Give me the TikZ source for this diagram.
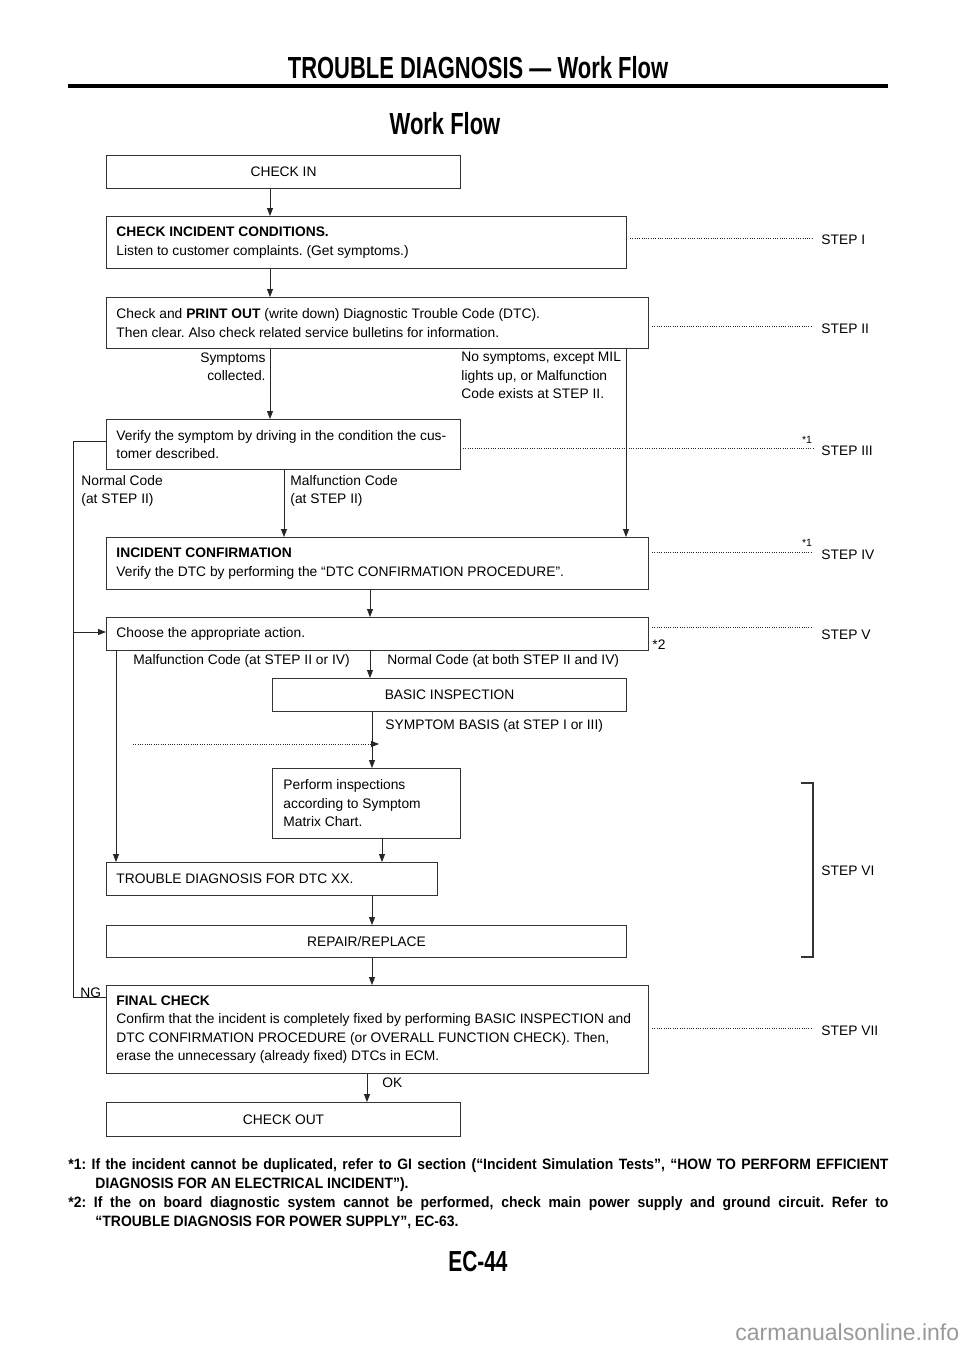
\documentclass[tikz,border=0pt]{standalone}
\usepackage{fontspec}
\usepackage{graphicx}
\setmainfont{Liberation Sans}
\newfontfamily\hdrfont[FakeStretch=0.72]{Liberation Sans}
\newfontfamily\notefont[FakeStretch=0.93]{Liberation Sans}
\usetikzlibrary{arrows.meta}
\newcommand\fsn{\fontsize{13.8pt}{18.5pt}\selectfont}
\newcommand\fss{\fontsize{10.5pt}{12pt}\selectfont}
\begin{document}
\frenchspacing
\begin{tikzpicture}[x=1pt,y=-1pt,line width=0.9pt,
 bx/.style={draw=black!80, line width=1.1pt, rectangle, anchor=north west, inner sep=0pt},
 txt/.style={font=\fsn, inner sep=0pt, align=left},
 arr/.style={draw=black!85, line width=0.9pt, -{Triangle[width=6pt,length=8pt]}},
 dots/.style={draw=black!85, line width=0.9pt, dash pattern=on 0.8pt off 1.5pt},
 steplbl/.style={font=\fsn, inner sep=0pt, anchor=west},
 hdr/.style={inner sep=0pt, font=\hdrfont\bfseries\fontsize{30.5pt}{32pt}\selectfont}]
\useasboundingbox[fill=white] (0,0) rectangle (960,1358);

% header
\node[hdr] (head) at (478,68) {TROUBLE DIAGNOSIS — Work Flow};
\coordinate (ruleL) at (68,86);
\coordinate (ruleR) at (888,86);
\draw[line width=4pt] (ruleL) -- (ruleR);
\node[hdr] (title) at (445,124) {Work Flow};

% boxes
\node[bx, minimum width=354pt, minimum height=33pt, font=\fsn] (checkin) at (106,155) {CHECK IN};

\node[bx, minimum width=520pt, minimum height=52pt] (cond) at (106,216) {};
\node[txt, anchor=west] (condT) at ([xshift=10pt]cond.west) {\textbf{CHECK INCIDENT CONDITIONS.}\\Listen to customer complaints. (Get symptoms.)};

\node[bx, minimum width=542pt, minimum height=51pt] (dtc) at (106,297) {};
\node[txt, anchor=west] (dtcT) at ([xshift=10pt]dtc.west) {Check and \textbf{PRINT OUT} (write down) Diagnostic Trouble Code (DTC).\\Then clear. Also check related service bulletins for information.};

\node[bx, minimum width=354pt, minimum height=50pt] (verify) at (106,419) {};
\node[txt, anchor=west] (verifyT) at ([xshift=10pt]verify.west) {Verify the symptom by driving in the condition the cus-\\tomer described.};

\node[bx, minimum width=542pt, minimum height=52pt] (confirm) at (106,537) {};
\node[txt, anchor=west] (confirmT) at ([xshift=10pt]confirm.west) {\textbf{INCIDENT CONFIRMATION}\\Verify the DTC by performing the “DTC CONFIRMATION PROCEDURE”.};

\node[bx, minimum width=542pt, minimum height=33pt] (choose) at (106,617) {};
\node[txt, anchor=west] (chooseT) at ([xshift=10pt]choose.west) {Choose the appropriate action.};

\node[bx, minimum width=354pt, minimum height=33pt, font=\fsn] (basic) at (272,678) {BASIC INSPECTION};

\node[bx, minimum width=188pt, minimum height=70pt] (perform) at (272,768) {};
\node[txt, anchor=west] (performT) at ([xshift=11pt]perform.west) {Perform inspections\\according to Symptom\\Matrix Chart.};

\node[bx, minimum width=331pt, minimum height=33pt] (trouble) at (106,862) {};
\node[txt, anchor=west] (troubleT) at ([xshift=10pt]trouble.west) {TROUBLE DIAGNOSIS FOR DTC XX.};

\node[bx, minimum width=520pt, minimum height=32pt, font=\fsn] (repair) at (106,925) {REPAIR/REPLACE};

\node[bx, minimum width=542pt, minimum height=88pt] (final) at (106,985) {};
\node[txt, anchor=west] (finalT) at ([xshift=10pt]final.west) {\textbf{FINAL CHECK}\\Confirm that the incident is completely fixed by performing BASIC INSPECTION and\\DTC CONFIRMATION PROCEDURE (or OVERALL FUNCTION CHECK). Then,\\erase the unnecessary (already fixed) DTCs in ECM.};

\node[bx, minimum width=354pt, minimum height=34pt, font=\fsn] (checkout) at (106,1102) {CHECK OUT};

% x positions of connectors
\coordinate (x270) at (270,0);
\coordinate (x626) at (626,0);
\coordinate (x284) at (284,0);
\coordinate (x370) at (370,0);
\coordinate (x372) at (372,0);
\coordinate (x382) at (382,0);
\coordinate (x116) at (116,0);
\coordinate (x367) at (367,0);

% connectors
\draw[arr] (checkin.south -| x270) -- (cond.north -| x270);
\draw[arr] (cond.south -| x270) -- (dtc.north -| x270);
\draw[arr] (dtc.south -| x270) -- (verify.north -| x270);
\draw[arr] (dtc.south -| x626) -- (confirm.north -| x626);
\draw[arr] (verify.south -| x284) -- (confirm.north -| x284);
\draw[arr] (confirm.south -| x370) -- (choose.north -| x370);
\draw[arr] (choose.south -| x370) -- (basic.north -| x370);
\draw[arr] (basic.south -| x372) -- (perform.north -| x372);
\draw[arr] (perform.south -| x382) -- (trouble.north -| x382);
\draw[arr] (choose.south -| x116) -- (trouble.north -| x116);
\draw[arr] (trouble.south -| x372) -- (repair.north -| x372);
\draw[arr] (repair.south -| x372) -- (final.north -| x372);
\draw[arr] (final.south -| x367) -- (checkout.north -| x367);

% loop on the left
\coordinate (lpT) at (73,441);
\coordinate (lpM) at (73,632);
\coordinate (lpB) at (73,997);
\draw[draw=black!85] (verify.west |- lpT) -- (lpT) -- (lpB) -- (final.west |- lpB);
\draw[arr] (lpM) -- (choose.west |- lpM);

% dotted arrow
\coordinate (dotS) at (133,744);
\coordinate (dotE) at (379,744);
\draw[dots, -{Triangle[width=6pt,length=8pt]}] (dotS) -- (dotE);

% labels
\node[txt, align=right, anchor=north east] (symp) at (266,352) {Symptoms\\collected.};
\node[txt, anchor=north west] (nosymp) at (461,352) {No symptoms, except MIL\\lights up, or Malfunction\\Code exists at STEP II.};
\node[txt, anchor=north west] (normal) at (81,475) {Normal Code\\(at STEP II)};
\node[txt, anchor=north west] (malf) at (290,475) {Malfunction Code\\(at STEP II)};
\node[txt, anchor=north west] (malf2) at (133,654) {Malfunction Code (at STEP II or IV)};
\node[txt, anchor=north west] (normal2) at (387,654) {Normal Code (at both STEP II and IV)};
\node[txt, anchor=north west] (sbasis) at (385,719) {SYMPTOM BASIS (at STEP I or III)};
\node[txt, anchor=north west] (ng) at (80,987) {NG};
\node[txt, anchor=north west] (ok) at (382,1077) {OK};
\node[txt, anchor=north west] (st2) at (652,639) {*2};

% step labels
\node[steplbl] (s1) at (821,240) {STEP I};
\node[steplbl] (s2) at (821,329) {STEP II};
\node[steplbl] (s3) at (821,451) {STEP III};
\node[steplbl] (s4) at (821,555) {STEP IV};
\node[steplbl] (s5) at (821,635) {STEP V};
\node[steplbl] (s6) at (821,871) {STEP VI};
\node[steplbl] (s7) at (821,1031) {STEP VII};
\node[font=\fss, inner sep=0pt] (st1a) at (807,440) {*1};
\node[font=\fss, inner sep=0pt] (st1b) at (807,543) {*1};

% dotted leaders
\coordinate (l1a) at (630,238);  \coordinate (l1b) at (813,238);
\coordinate (l2a) at (652,326);  \coordinate (l2b) at (813,326);
\coordinate (l3a) at (463,448);  \coordinate (l3b) at (813,448);
\coordinate (l4a) at (652,552);  \coordinate (l4b) at (813,552);
\coordinate (l5a) at (652,627);  \coordinate (l5b) at (813,627);
\coordinate (l7a) at (652,1028); \coordinate (l7b) at (813,1028);
\draw[dots] (l1a) -- (l1b);
\draw[dots] (l2a) -- (l2b);
\draw[dots] (l3a) -- (l3b);
\draw[dots] (l4a) -- (l4b);
\draw[dots] (l5a) -- (l5b);
\draw[dots] (l7a) -- (l7b);

% bracket STEP VI
\coordinate (brA) at (801,783);
\coordinate (brB) at (813,783);
\coordinate (brC) at (813,957);
\coordinate (brD) at (801,957);
\draw[draw=black!80, line width=1.1pt] (brA) -- (brB) -- (brC) -- (brD);

% footnotes
\node[anchor=north west, inner sep=0pt, text width=820pt, align=justify,
      font=\notefont\bfseries\fontsize{15pt}{19pt}\selectfont] (notes) at (68,1158)
 {\parindent=0pt\hyphenpenalty=10000\tolerance=9999\frenchspacing%
  \hangindent=27pt\hangafter=1 *1: If the incident cannot be duplicated, refer to GI section (“Incident Simulation Tests”, “HOW TO PERFORM EFFICIENT\linebreak DIAGNOSIS FOR AN ELECTRICAL INCIDENT”).\par
  \hangindent=27pt\hangafter=1 *2: If the on board diagnostic system cannot be performed, check main power supply and ground circuit. Refer to\linebreak “TROUBLE DIAGNOSIS FOR POWER SUPPLY”, EC-63.\par};

\node[hdr, font=\hdrfont\bfseries\fontsize{29pt}{30pt}\selectfont] (page) at (478,1262) {EC-44};

\node[anchor=base west, inner sep=0pt, font=\fontsize{23pt}{24pt}\selectfont, text=black!40] (wm) at (735,1340) {carmanualsonline.info};
\end{tikzpicture}
\end{document}
